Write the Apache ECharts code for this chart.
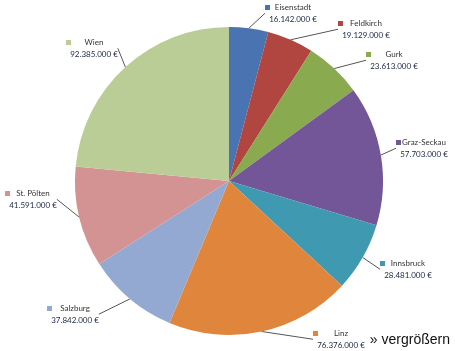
<!DOCTYPE html>
<html>
<head>
<meta charset="utf-8">
<script src="https://cdn.jsdelivr.net/npm/echarts@6/dist/echarts.min.js"></script>
<style>
  html, body { margin: 0; padding: 0; background: #fff; }
  #chart { width: 455px; height: 351px; }
</style>
</head>
<body>
<div id="chart"></div>
<script>
var dioceses = ['Eisenstadt', 'Feldkirch', 'Gurk', 'Graz-Seckau', 'Innsbruck', 'Linz', 'Salzburg', 'St. Pölten', 'Wien'];
var amounts = [16142000, 19129000, 23613000, 57703000, 28481000, 76376000, 37842000, 41591000, 92385000];
var colors = ['#4a73b2', '#b0463f', '#89aa4f', '#735697', '#3f9ab1', '#e0853c', '#94a9d2', '#d49393', '#bacd97'];

// label box: marker left x, first line top y
var labelBox = [[265, 2], [338, 18], [366, 49], [396, 137], [380, 258], [313, 328], [47, 303], [5, 188], [66, 37]];

function fmtEuro(v) {
    return String(v).replace(/\B(?=(\d{3})+(?!\d))/g, '.') + ' €';
}

var myChart = echarts.init(document.getElementById('chart'));

var pieData = [];
for (var i = 0; i < dioceses.length; i++) {
    pieData.push({
        name: dioceses[i],
        value: amounts[i],
        itemStyle: { color: colors[i] },
        label: {
            rich: {
                m: { width: 5, height: 5, backgroundColor: colors[i] },
                e: { width: 5 },
                n: { width: 46, align: 'center', color: '#333', fontSize: 8, fontFamily: 'Lato', lineHeight: 11 },
                v: { width: 46, align: 'center', color: '#1a2640', fontSize: 8, fontFamily: 'Lato', lineHeight: 11 }
            }
        }
    });
}

var option = {
    animation: false,
    title: {
        text: '» vergrößern',
        right: 0,
        bottom: -1,
        textStyle: { fontSize: 14, fontWeight: 'normal', color: '#111', fontFamily: 'Liberation Sans' }
    },
    series: [{
        type: 'pie',
        center: [229, 181],
        radius: 154,
        startAngle: 90,
        clockwise: true,
        data: pieData,
        label: {
            show: true,
            position: 'outside',
            overflow: 'none',
            alignTo: 'none',
            formatter: function (p) {
                return '{m|}{n|' + p.name + '}\n{e|}{v|' + fmtEuro(p.value) + '}';
            }
        },
        labelLine: {
            show: true,
            length: 10,
            length2: 0,
            smooth: false,
            lineStyle: { color: '#555', width: 1 }
        },
        labelLayout: function (params) {
            var b = labelBox[params.dataIndex];
            return { x: b[0], y: b[1], align: 'left', verticalAlign: 'top' };
        }
    }]
};

myChart.setOption(option);
</script>
</body>
</html>
